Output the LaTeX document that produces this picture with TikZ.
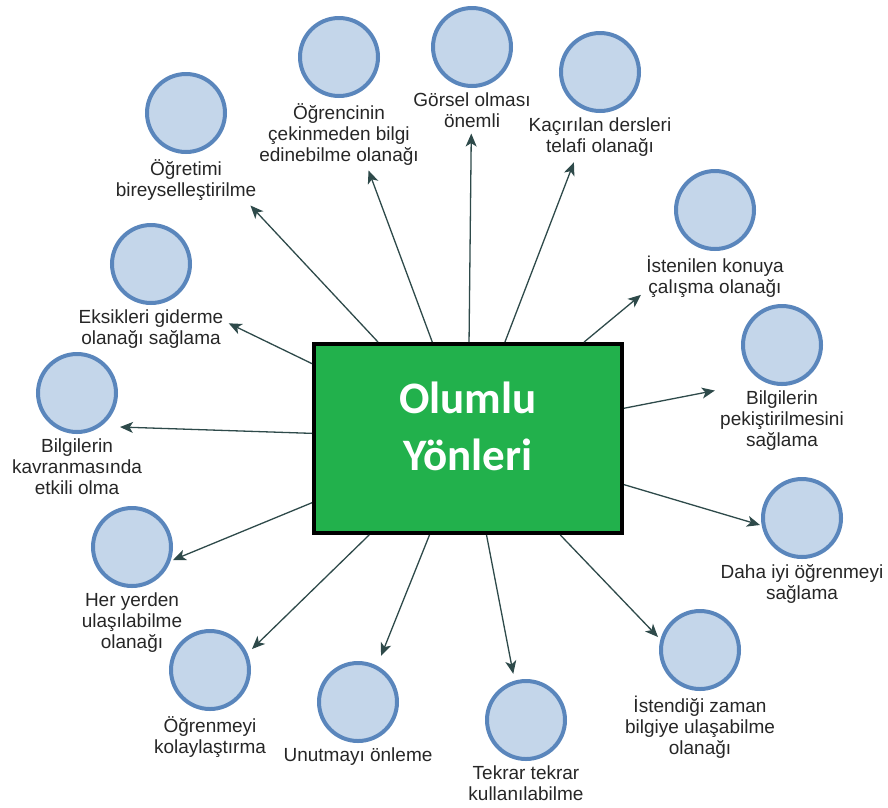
\documentclass[tikz,border=0pt]{standalone}
\usepackage{fontspec}
\setmainfont{Liberation Sans}
\newfontfamily\titlefont{Carlito}
\usetikzlibrary{positioning,fit,arrows.meta}

\definecolor{boxgreen}{HTML}{22B14C}
\definecolor{bubblefill}{HTML}{C4D6EA}
\definecolor{bubbleline}{HTML}{5A86BC}
\definecolor{linkgray}{HTML}{2E4A4A}
\definecolor{textgray}{HTML}{262626}

\tikzset{
  mainbox/.style={draw=black, line width=4pt, fill=boxgreen, minimum width=308pt,
    minimum height=189pt, inner sep=0pt, align=center, text=white,
    font=\titlefont\bfseries\fontsize{45}{57}\selectfont},
  bubble/.style={circle, draw=bubbleline, line width=4pt, fill=bubblefill,
    minimum size=78pt, inner sep=0pt},
  caption/.style={align=center, inner sep=0pt, text=textgray,
    font=\fontsize{19}{21}\selectfont},
  group/.style={inner sep=5pt},
  link/.style={-{Stealth[length=13pt,width=11pt,inset=3.5pt]}, line width=1.3pt, draw=linkgray}
}

\begin{document}
\begin{tikzpicture}[x=1pt,y=-1pt]
    \useasboundingbox (0,0) rectangle (888,807);

    % central box
    \node[mainbox] (box) at (468,438.5) {Olumlu\\Yönleri\rule[-24pt]{0pt}{0pt}};

    % upper items
    \node[bubble] (c1) at (186,113) {};
    \node[caption, below=5pt of c1] (t1) {Öğretimi\\bireyselleştirilme};
    \node[group, fit=(c1)(t1)] (g1) {};

    \node[bubble] (c2) at (339,57) {};
    \node[caption, below=5pt of c2] (t2) {Öğrencinin\\çekinmeden bilgi\\edinebilme olanağı};
    \node[group, fit=(c2)(t2)] (g2) {};

    \node[bubble] (c3) at (472,47) {};
    \node[caption, below=5pt of c3] (t3) {Görsel olması\\önemli};
    \node[group, fit=(c3)(t3)] (g3) {};

    \node[bubble] (c4) at (600,72) {};
    \node[caption, below=5pt of c4] (t4) {Kaçırılan dersleri\\telafi olanağı};
    \node[group, fit=(c4)(t4)] (g4) {};

    \node[bubble] (c5) at (715,210) {};
    \node[caption, below=5pt of c5] (t5) {İstenilen konuya\\çalışma olanağı};
    \node[group, fit=(c5)(t5)] (g5) {};

    \node[bubble] (c6) at (782,345) {};
    \node[caption, below=5pt of c6] (t6) {Bilgilerin\\pekiştirilmesini\\sağlama};
    \node[group, fit=(c6)(t6)] (g6) {};

    \node[bubble] (c14) at (151,264) {};
    \node[caption, below=5pt of c14] (t14) {Eksikleri giderme\\olanağı sağlama};
    \node[group, fit=(c14)(t14)] (g14) {};

    % lower items
    \node[bubble] (c7) at (802,518) {};
    \node[caption, below=5pt of c7] (t7) {Daha iyi öğrenmeyi\\sağlama};

    \node[bubble] (c8) at (700,650) {};
    \node[caption, below=5pt of c8] (t8) {İstendiği zaman\\bilgiye ulaşabilme\\olanağı};

    \node[bubble] (c9) at (526,720) {};
    \node[caption, below=5pt of c9] (t9) {Tekrar tekrar\\kullanılabilme};
    \node[group, fit=(c9)(t9)] (g9) {};

    \node[bubble] (c10) at (358,702) {};
    \node[caption, below=5pt of c10] (t10) {Unutmayı önleme};
    \node[group, fit=(c10)(t10)] (g10) {};

    \node[bubble] (c11) at (210,670) {};
    \node[caption, below=5pt of c11] (t11) {Öğrenmeyi\\kolaylaştırma};

    \node[bubble] (c12) at (132,547) {};
    \node[caption, below=5pt of c12] (t12) {Her yerden\\ulaşılabilme\\olanağı};

    \node[bubble] (c13) at (77,393) {};
    \node[caption, below=5pt of c13] (t13) {Bilgilerin\\kavranmasında\\etkili olma};

    % arrow ends at the circles
    \coordinate (e7) at (760,525);
    \coordinate (e8) at (658,637);
    \coordinate (e11) at (252,649);
    \coordinate (e12) at (173,560);
    \coordinate (e13) at (120,427);

    % connectors
    \draw[link] (box) -- (g1);
    \draw[link] (box) -- (g2);
    \draw[link] (box) -- (g3);
    \draw[link] (box) -- (g4);
    \draw[link] (box) -- (g5);
    \draw[link] (box) -- (g6);
    \draw[link] (box) -- (e7);
    \draw[link] (box) -- (e8);
    \draw[link] (box) -- (g9);
    \draw[link] (box) -- (g10);
    \draw[link] (box) -- (e11);
    \draw[link] (box) -- (e12);
    \draw[link] (box) -- (e13);
    \draw[link] (box) -- (g14);
\end{tikzpicture}
\end{document}
